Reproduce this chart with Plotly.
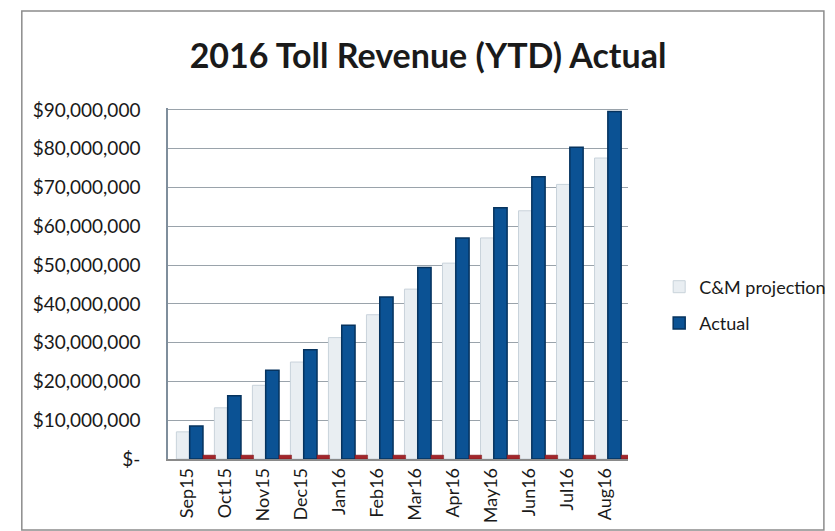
import plotly.graph_objects as go

months = ["Sep15", "Oct15", "Nov15", "Dec15", "Jan16", "Feb16",
          "Mar16", "Apr16", "May16", "Jun16", "Jul16", "Aug16"]
projection = [7.0e6, 13.2e6, 19.0e6, 25.0e6, 31.3e6, 37.2e6,
              43.8e6, 50.5e6, 57.0e6, 64.0e6, 70.8e6, 77.6e6]
actual = [8.5e6, 16.3e6, 22.9e6, 28.2e6, 34.5e6, 41.8e6,
          49.4e6, 57.0e6, 64.8e6, 72.8e6, 80.4e6, 89.6e6]
other = [1.0e6] * 12

ytick_vals = [0, 10e6, 20e6, 30e6, 40e6, 50e6, 60e6, 70e6, 80e6, 90e6]
ytick_text = ["$-", "$10,000,000", "$20,000,000", "$30,000,000", "$40,000,000",
              "$50,000,000", "$60,000,000", "$70,000,000", "$80,000,000", "$90,000,000"]

fig = go.Figure()
fig.add_trace(go.Bar(x=months, y=projection, name="C&M projection", legendgroup="a",
                     marker=dict(color="#e9eef2", line=dict(color="#c9d3db", width=1)),
                     width=0.34, offset=-0.28))
fig.add_trace(go.Bar(x=months, y=actual, name="Actual", legendgroup="b",
                     marker=dict(color="#0b5294", line=dict(color="#06335e", width=1.5)),
                     width=0.35, offset=0.07))
fig.add_trace(go.Bar(x=months, y=other, name="", showlegend=False, legendgroup="c",
                     marker=dict(color="#a3262b", line=dict(color="#7a1a1e", width=0.5)),
                     width=0.33, offset=0.42))

L, R, T, B = 160, 632, 100, 451
W, H = 835, 531

fig.update_layout(
    width=W, height=H,
    margin=dict(l=L, r=W - R, t=T, b=H - B),
    paper_bgcolor="white", plot_bgcolor="white",
    barmode="group",
    title=dict(text="<b>2016 Toll Revenue (YTD) Actual</b>", x=420 / W, xanchor="center",
               y=1 - 48 / H, yanchor="middle",
               font=dict(family="Lato", size=34, color="#1a1a1a")),
    font=dict(family="Lato", color="#1a1a1a"),
    showlegend=True,
    legend=dict(x=(664 - L) / (R - L), y=(451 - 297) / (B - T), xanchor="left", yanchor="middle",
                font=dict(size=18, color="#1a1a1a"), tracegroupgap=10,
                traceorder="grouped", itemwidth=30,
                bgcolor="rgba(0,0,0,0)"),
    xaxis=dict(type="category", range=[-0.5, 11.6], tickangle=-90,
               tickfont=dict(size=18, color="#1a1a1a"), showgrid=False,
               showline=True, linecolor="#8a8a8a", linewidth=1.5, ticks=""),
    yaxis=dict(range=[0, 90.5e6], tickvals=ytick_vals, ticktext=ytick_text,
               tickfont=dict(size=19, color="#1a1a1a"), showgrid=True,
               gridcolor="#9aa3ab", gridwidth=1, showline=True, linecolor="#7f8e9c",
               linewidth=1.5, ticks="", ticklabelstandoff=22, zeroline=False),
)

fig.add_shape(type="rect", xref="paper", yref="paper",
              x0=(10 - L) / (R - L), x1=(833 - L) / (R - L),
              y0=(B - 522) / (B - T), y1=(B - 3) / (B - T),
              line=dict(color="#8c8c8c", width=1.5), fillcolor="rgba(0,0,0,0)", layer="below")

fig.write_html("out.html")
